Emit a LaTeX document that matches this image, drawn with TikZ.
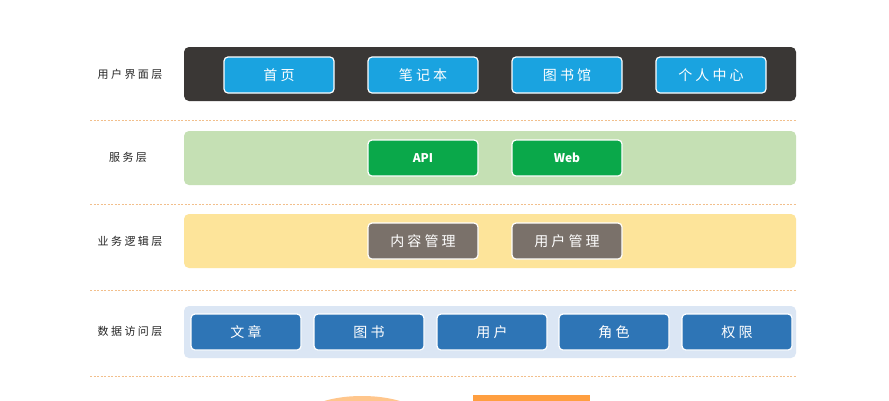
\documentclass[tikz,border=0pt]{standalone}
\usepackage{fontspec}
\setmainfont{Noto Sans CJK SC}
\tikzset{
 band/.style={rounded corners=5pt},
 btn/.style={draw=white,line width=1.2pt,rounded corners=4pt,minimum width=110pt,minimum height=36pt,text=white,font=\fontsize{14}{14}\selectfont,inner sep=0pt},
 lab/.style={font=\fontsize{11}{11}\selectfont,text=black!85},
 sep/.style={draw=orange!60!brown!50,dash pattern=on 2pt off 1.5pt,line width=0.8pt}
}
\definecolor{dark}{HTML}{3A3735}
\definecolor{bl}{HTML}{1AA3E0}
\definecolor{gbg}{HTML}{C5E0B4}
\definecolor{gr}{HTML}{0AA84A}
\definecolor{ybg}{HTML}{FDE49A}
\definecolor{gy}{HTML}{7A716A}
\definecolor{dbg}{HTML}{DBE6F4}
\definecolor{db}{HTML}{2E75B6}
\begin{document}
\begin{tikzpicture}[x=1pt,y=-1pt]
\useasboundingbox (0,0) rectangle (889,400);
\fill[white] (0,0) rectangle (889,400);
% UI
\fill[dark,band] (184,47) rectangle (796,101);
\node[lab] (l1) at (130,74) {用 户 界 面 层};
\node[btn,fill=bl] (b1) at (279,75) {首 页};
\node[btn,fill=bl] (b2) at (423,75) {笔 记 本};
\node[btn,fill=bl] (b3) at (567,75) {图 书 馆};
\node[btn,fill=bl] (b4) at (711,75) {个 人 中 心};
\draw[sep] (90,120) -- (797,120);
% service
\fill[gbg,band] (184,131) rectangle (796,185);
\node[lab] (l2) at (128,157) {服 务 层};
\node[btn,fill=gr,font=\fontsize{12}{12}\selectfont\bfseries] (s1) at (423,158) {API};
\node[btn,fill=gr,font=\fontsize{12}{12}\selectfont\bfseries] (s2) at (567,158) {Web};
\draw[sep] (90,204) -- (797,204);
% logic
\fill[ybg,band] (184,214) rectangle (796,268);
\node[lab] (l3) at (130,241) {业 务 逻 辑 层};
\node[btn,fill=gy] (g1) at (423,241) {内 容 管 理};
\node[btn,fill=gy] (g2) at (567,241) {用 户 管 理};
\draw[sep] (90,290) -- (797,290);
% data
\fill[dbg,band] (184,306) rectangle (796,358);
\node[lab] (l4) at (130,331) {数 据 访 问 层};
\node[btn,fill=db] (d1) at (246,332) {文 章};
\node[btn,fill=db] (d2) at (369,332) {图 书};
\node[btn,fill=db] (d3) at (492,332) {用 户};
\node[btn,fill=db] (d4) at (614,332) {角 色};
\node[btn,fill=db] (d5) at (737,332) {权 限};
\draw[sep] (90,376) -- (797,376);
% bottom partial shapes
\begin{scope}
\clip (0,0) rectangle (889,400);
\fill[orange!45!white] (362,420) ellipse (62 and 24);
\fill[orange!75!white] (473,395) rectangle (590,410);
\end{scope}
\end{tikzpicture}
\end{document}
